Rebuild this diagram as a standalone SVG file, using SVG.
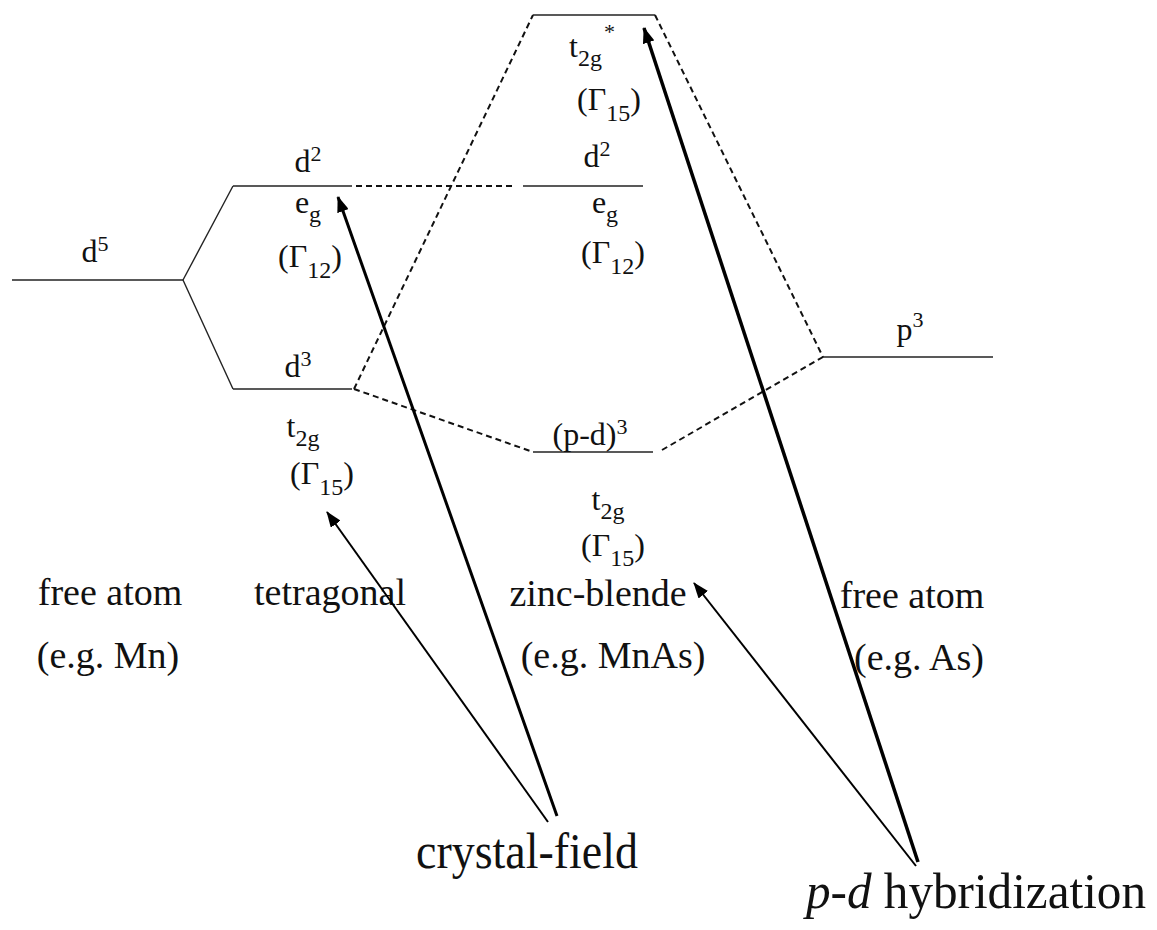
<svg xmlns="http://www.w3.org/2000/svg" width="1157" height="930" viewBox="0 0 1157 930">
<style>
text{font-family:"Liberation Serif","Times New Roman",serif;fill:#111;}
.lv{font-size:32px;text-anchor:middle;}
.lb{font-size:38px;text-anchor:middle;}
.big{font-size:50px;}
.sub{font-size:24px;}
.sup{font-size:22px;}
.lvl{stroke:#222;stroke-width:1.4;fill:none;}
.dash{stroke:#111;stroke-width:2;stroke-dasharray:6,4;fill:none;}
.arr{stroke:#000;fill:none;}
</style>
<defs>
<marker id="ah" viewBox="0 0 16 12" refX="15" refY="6" markerWidth="16" markerHeight="12" markerUnits="userSpaceOnUse" orient="auto">
<path d="M0,0 L16,6 L0,12 Z" fill="#000"/>
</marker>
</defs>
<rect width="1157" height="930" fill="#fff"/>

<g id="free-mn">
<line class="lvl" x1="12" y1="280" x2="183" y2="280"/>
<text class="lv" x="95" y="262">d<tspan class="sup" dy="-11">5</tspan></text>
<text class="lb" x="110" y="605">free atom</text>
<text class="lb" x="108" y="668">(e.g. Mn)</text>
</g>

<g id="tet-eg">
<line class="lvl" x1="233" y1="186" x2="352" y2="186"/>
<text class="lv" x="308" y="172">d<tspan class="sup" dy="-11">2</tspan></text>
<text class="lv" x="308" y="213">e<tspan class="sub" dy="9">g</tspan></text>
<text class="lv" x="310" y="267">(Γ<tspan class="sub" dy="11">12</tspan><tspan dy="-11">)</tspan></text>
</g>

<g id="tet-t2g">
<line class="lvl" x1="233" y1="389" x2="352" y2="389"/>
<text class="lv" x="298" y="377">d<tspan class="sup" dy="-11">3</tspan></text>
<text class="lv" x="303" y="437">t<tspan class="sub" dy="9">2g</tspan></text>
<text class="lv" x="322" y="484">(Γ<tspan class="sub" dy="11">15</tspan><tspan dy="-11">)</tspan></text>
<text class="lb" x="330" y="605">tetragonal</text>
</g>

<g id="zb-t2gstar">
<line class="lvl" x1="533" y1="15" x2="655" y2="15"/>
<text class="lv" x="592" y="57">t<tspan class="sub" dy="9">2g</tspan><tspan class="sup" dy="-27" dx="2">*</tspan></text>
<text class="lv" x="609" y="110">(Γ<tspan class="sub" dy="11">15</tspan><tspan dy="-11">)</tspan></text>
</g>

<g id="zb-eg">
<line class="lvl" x1="523" y1="186" x2="643" y2="186"/>
<text class="lv" x="597" y="167">d<tspan class="sup" dy="-11">2</tspan></text>
<text class="lv" x="605" y="213">e<tspan class="sub" dy="9">g</tspan></text>
<text class="lv" x="613" y="263">(Γ<tspan class="sub" dy="11">12</tspan><tspan dy="-11">)</tspan></text>
</g>

<g id="zb-pd">
<line class="lvl" x1="533" y1="452" x2="653" y2="452"/>
<text class="lv" x="590" y="445">(p-d)<tspan class="sup" dy="-11">3</tspan></text>
<text class="lv" x="608" y="510">t<tspan class="sub" dy="9">2g</tspan></text>
<text class="lv" x="613" y="556">(Γ<tspan class="sub" dy="10">15</tspan><tspan dy="-10">)</tspan></text>
<text class="lb" x="598" y="606">zinc-blende</text>
<text class="lb" x="613" y="668">(e.g. MnAs)</text>
</g>

<g id="free-as">
<line class="lvl" x1="823" y1="357" x2="993" y2="357"/>
<text class="lv" x="910" y="340">p<tspan class="sup" dy="-13">3</tspan></text>
<text class="lb" x="912" y="608">free atom</text>
<text class="lb" x="919" y="670">(e.g. As)</text>
</g>

<g id="label-cf">
<text class="big" x="416" y="868" textLength="222" lengthAdjust="spacingAndGlyphs">crystal-field</text>
</g>
<g id="label-pd">
<text class="big" x="806" y="908" textLength="340" lengthAdjust="spacingAndGlyphs"><tspan font-style="italic">p-d</tspan> hybridization</text>
</g>

<g id="connectors">
<line class="lvl" x1="183" y1="280" x2="233" y2="186"/>
<line class="lvl" x1="183" y1="280" x2="233" y2="389"/>
<line class="dash" x1="356" y1="186" x2="515" y2="186"/>
<line class="dash" x1="354" y1="389" x2="533" y2="15"/>
<line class="dash" x1="655" y1="15" x2="823" y2="357"/>
<line class="dash" x1="354" y1="389" x2="533" y2="452"/>
<line class="dash" x1="662" y1="450" x2="823" y2="357"/>
<line class="arr" stroke-width="3" x1="557" y1="816" x2="338" y2="197" marker-end="url(#ah)"/>
<line class="arr" stroke-width="2" x1="548" y1="822" x2="327" y2="512" marker-end="url(#ah)"/>
<line class="arr" stroke-width="3.5" x1="918" y1="862" x2="644" y2="28" marker-end="url(#ah)"/>
<line class="arr" stroke-width="2" x1="916" y1="866" x2="694" y2="583" marker-end="url(#ah)"/>
</g>
</svg>
